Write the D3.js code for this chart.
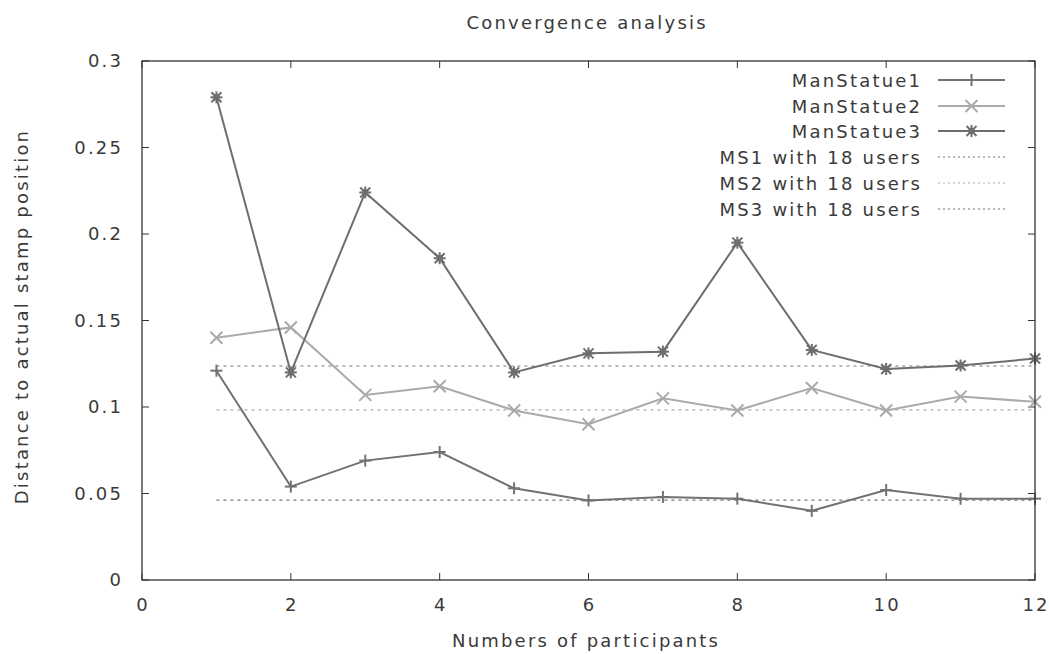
<!DOCTYPE html>
<html><head><meta charset="utf-8">
<script src="https://cdn.jsdelivr.net/npm/d3@7"></script>
<style>body{margin:0;background:#fff}svg text{font-family:"DejaVu Sans",sans-serif;fill:#3a3a3a;letter-spacing:2.2px}</style>
</head><body><svg id="c" width="1049" height="654"></svg>
<script>
const participants = [1,2,3,4,5,6,7,8,9,10,11,12];
const manStatue1 = [0.121,0.054,0.069,0.074,0.053,0.046,0.048,0.047,0.040,0.052,0.047,0.047];
const manStatue2 = [0.140,0.146,0.107,0.112,0.098,0.090,0.105,0.098,0.111,0.098,0.106,0.103];
const manStatue3 = [0.279,0.120,0.224,0.186,0.120,0.131,0.132,0.195,0.133,0.122,0.124,0.128];
const refValues = [0.0462,0.0983,0.1237];
const xTicks = [0,2,4,6,8,10,12];
const yTicks = [0,0.05,0.1,0.15,0.2,0.25,0.3];
const seriesNames = ["ManStatue1","ManStatue2","ManStatue3"];
const refNames = ["MS1 with 18 users","MS2 with 18 users","MS3 with 18 users"];

const svg = d3.select("#c");
const L=142,R=1035,T=61,B=580;
const x = d3.scaleLinear().domain([0,12]).range([L,R]);
const y = d3.scaleLinear().domain([0,0.3]).range([B,T]);
const axisCol="#333";
const ls=2.2;

// ticks (inward, mirrored)
const tl=7;
xTicks.forEach(t=>{
  svg.append("line").attr("x1",x(t)).attr("x2",x(t)).attr("y1",B).attr("y2",B-tl).attr("stroke",axisCol);
  svg.append("line").attr("x1",x(t)).attr("x2",x(t)).attr("y1",T).attr("y2",T+tl).attr("stroke",axisCol);
  svg.append("text").attr("x",x(t)+ls/2).attr("y",B+31).attr("text-anchor","middle").attr("font-size",18).text(t);
});
yTicks.forEach(t=>{
  svg.append("line").attr("x1",L).attr("x2",L+tl).attr("y1",y(t)).attr("y2",y(t)).attr("stroke",axisCol);
  svg.append("line").attr("x1",R).attr("x2",R-tl).attr("y1",y(t)).attr("y2",y(t)).attr("stroke",axisCol);
  svg.append("text").attr("x",L-21+ls).attr("y",y(t)+6).attr("text-anchor","end").attr("font-size",18).text(t===0?"0":String(+t.toFixed(2)));
});

svg.append("text").attr("x",586+ls/2).attr("y",29).attr("text-anchor","middle").attr("font-size",18).text("Convergence analysis");
svg.append("text").attr("x",585+ls/2).attr("y",647).attr("text-anchor","middle").attr("font-size",18).text("Numbers of participants");
svg.append("text").attr("transform","translate(28,"+((T+B)/2-4)+") rotate(-90)").attr("text-anchor","middle").attr("font-size",18).text("Distance to actual stamp position");

// reference dotted lines
const refCols=["#777","#aaa","#777"];
refValues.forEach((v,i)=>{
  svg.append("line").attr("x1",x(1)).attr("x2",x(12)).attr("y1",y(v)).attr("y2",y(v))
    .attr("stroke",refCols[i]).attr("stroke-width",1.2).attr("stroke-dasharray","3,4");
});

const cols=["#727272","#aaaaaa","#6e6e6e"];
const data=[manStatue1,manStatue2,manStatue3];
const line=d3.line().x((d,i)=>x(participants[i])).y(d=>y(d));

function marker(g,cx,cy,k,col){
  const s=6;
  const p=g.append("g").attr("transform",`translate(${cx},${cy})`).attr("stroke",col).attr("stroke-width",2);
  if(k===0||k===2){
    p.append("line").attr("x1",-s).attr("x2",s).attr("y1",0).attr("y2",0);
    p.append("line").attr("x1",0).attr("x2",0).attr("y1",-s).attr("y2",s);
  }
  if(k===1||k===2){
    const d=k===2?5:6;
    p.append("line").attr("x1",-d).attr("x2",d).attr("y1",-d).attr("y2",d);
    p.append("line").attr("x1",-d).attr("x2",d).attr("y1",d).attr("y2",-d);
  }
  if(k===2){
    p.append("rect").attr("x",-3).attr("y",-3).attr("width",6).attr("height",6).attr("fill",col).attr("stroke","none");
  }
}

data.forEach((arr,k)=>{
  svg.append("path").datum(arr).attr("d",line).attr("fill","none").attr("stroke",cols[k]).attr("stroke-width",2);
  const g=svg.append("g");
  arr.forEach((v,i)=>marker(g,x(participants[i]),y(v),k,cols[k]));
});

// frame
svg.append("rect").attr("x",L).attr("y",T).attr("width",R-L).attr("height",B-T).attr("fill","none").attr("stroke",axisCol).attr("stroke-width",1.3);

// legend
const ly=[80,106,131,157,183,209];
const tx=920+ls, s1=938, s2=1005;
seriesNames.forEach((n,i)=>{
  svg.append("text").attr("x",tx).attr("y",ly[i]+7).attr("text-anchor","end").attr("font-size",18).text(n);
  svg.append("line").attr("x1",s1).attr("x2",s2).attr("y1",ly[i]).attr("y2",ly[i]).attr("stroke",cols[i]).attr("stroke-width",2);
  marker(svg,(s1+s2)/2,ly[i],i,cols[i]);
});
refNames.forEach((n,i)=>{
  const yy=ly[i+3];
  svg.append("text").attr("x",tx).attr("y",yy+7).attr("text-anchor","end").attr("font-size",18).text(n);
  svg.append("line").attr("x1",s1).attr("x2",s2).attr("y1",yy).attr("y2",yy).attr("stroke",refCols[i]).attr("stroke-width",1.2).attr("stroke-dasharray","2,3");
});
</script></body></html>
